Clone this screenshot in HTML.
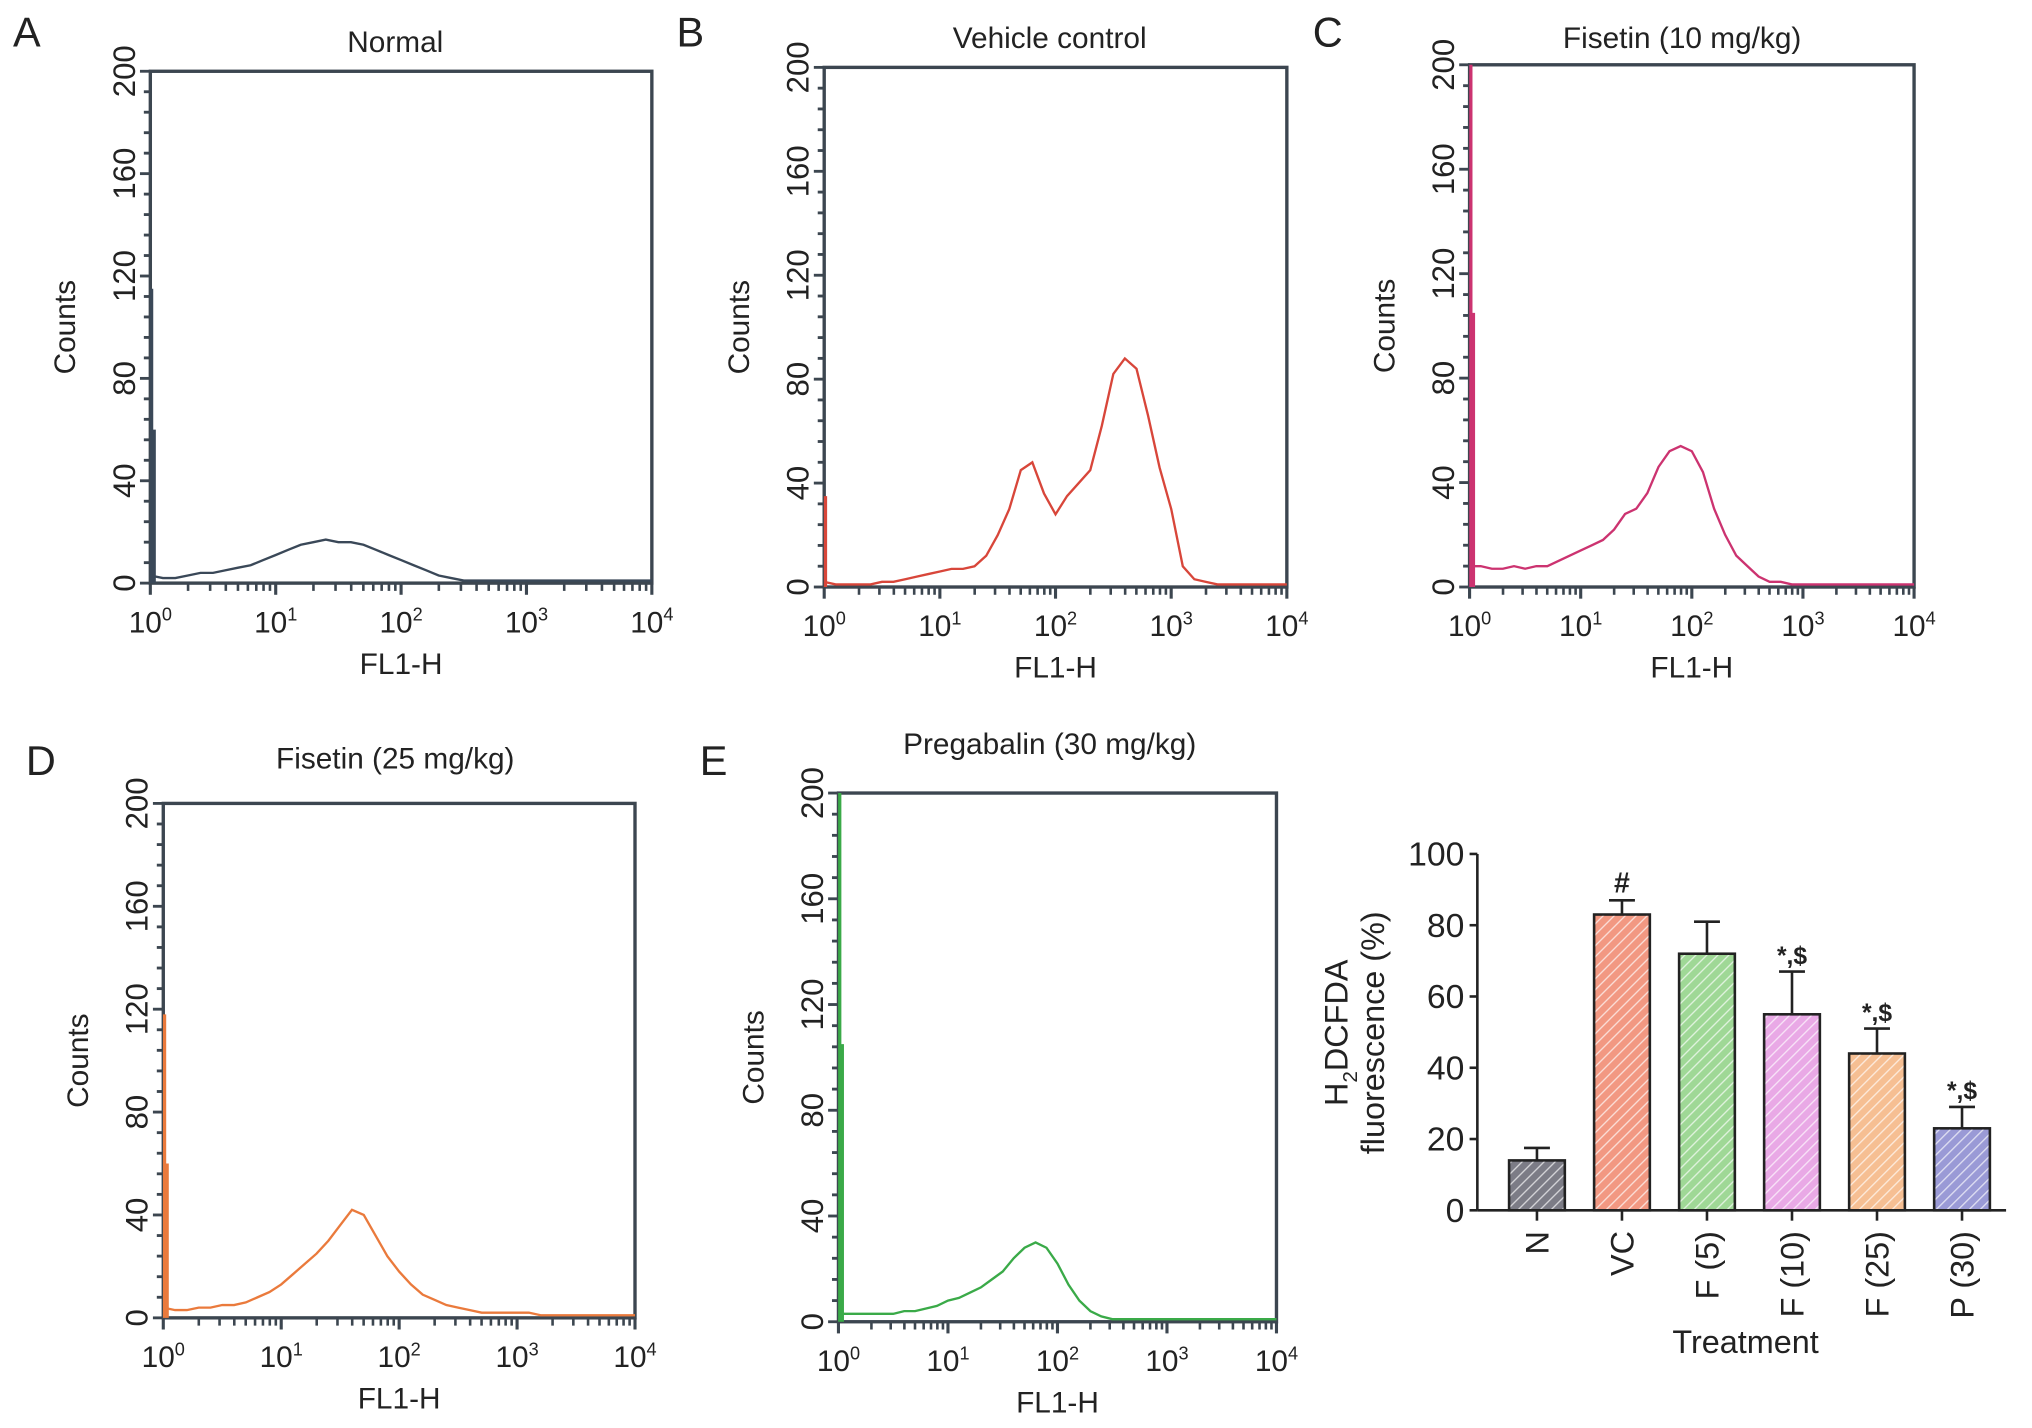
<!DOCTYPE html>
<html><head><meta charset="utf-8"><style>
html,body{margin:0;padding:0;background:#fff;}
svg{display:block;}
text{font-family:"Liberation Sans",Arial,sans-serif;fill:#222;}
</style></head><body>
<svg id="fig" width="2032" height="1428" viewBox="0 0 1568 1102" preserveAspectRatio="none" xmlns="http://www.w3.org/2000/svg">
<defs>
<pattern id="hatch" patternUnits="userSpaceOnUse" width="6" height="6" patternTransform="rotate(45)">
<rect width="6" height="6" fill="none"/><line x1="0" y1="0" x2="0" y2="6" stroke="#fff" stroke-width="2" stroke-opacity="0.7"/>
</pattern>
</defs>
</svg>
<script>
// Histogram data: counts at log10(FL1-H) = 0,0.1,...,4.0
const logPositions=[0,0.1,0.2,0.3,0.4,0.5,0.6,0.7,0.8,0.9,1.0,1.1,1.2,1.3,1.4,1.5,1.6,1.7,1.8,1.9,2.0,2.1,2.2,2.3,2.4,2.5,2.6,2.7,2.8,2.9,3.0,3.1,3.2,3.3,3.4,3.5,3.6,3.7,3.8,3.9,4.0];
const countsNormal=[3,2,2,3,4,4,5,6,7,9,11,13,15,16,17,16,16,15,13,11,9,7,5,3,2,1,1,1,1,1,1,1,1,1,1,1,1,1,1,1,1];
const countsVehicle=[2,1,1,1,1,2,2,3,4,5,6,7,7,8,12,20,30,45,48,36,28,35,40,45,62,82,88,84,66,46,30,8,3,2,1,1,1,1,1,1,1];
const countsF10=[8,8,7,7,8,7,8,8,10,12,14,16,18,22,28,30,36,46,52,54,52,44,30,20,12,8,4,2,2,1,1,1,1,1,1,1,1,1,1,1,1];
const countsF25=[4,3,3,4,4,5,5,6,8,10,13,17,21,25,30,36,42,40,32,24,18,13,9,7,5,4,3,2,2,2,2,2,1,1,1,1,1,1,1,1,1];
const countsPreg=[3,3,3,3,3,3,4,4,5,6,8,9,11,13,16,19,24,28,30,28,22,14,8,4,2,1,1,1,1,1,1,1,1,1,1,1,1,1,1,1,1];
const spikesNormal=[115,60];
const spikesVehicle=[35];
const spikesF10=[200,105];
const spikesF25=[118,60];
const spikesPreg=[200,105];
const yTicks=[0,40,80,120,160,200];
const xDecades=[0,1,2,3,4];
// Bar chart data
const barCategories=["N","VC","F (5)","F (10)","F (25)","P (30)"];
const barValues=[14,83,72,55,44,23];
const barErrors=[3.5,4,9,12,7,6];
const barAnnotations=["","#","","*,$","*,$","*,$"];
const barTicks=[0,20,40,60,80,100];

const NS="http://www.w3.org/2000/svg";
const svg=document.getElementById('fig');
function el(tag,attrs,parent){const e=document.createElementNS(NS,tag);for(const k in attrs)e.setAttribute(k,attrs[k]);(parent||svg).appendChild(e);return e;}
function txt(s,attrs,parent){const t=el('text',attrs,parent);t.textContent=s;return t;}

function histogram(cfg){
  const g=el('g',{});
  
  
  const x=v=>cfg.x0+(cfg.x1-cfg.x0)*v/4;
  const y=c=>cfg.yb+(cfg.yt-cfg.yb)*c/200;
  const fr=el('rect',{x:cfg.x0,y:cfg.yt,width:cfg.x1-cfg.x0,height:cfg.yb-cfg.yt,fill:'none',stroke:'#3c4650','stroke-width':2.6},g);
  
  
  for(let c=0;c<=200;c+=8){el('line',{x1:cfg.x0-(c%40===0?8:5),x2:cfg.x0,y1:y(c),y2:y(c),stroke:'#3c4650','stroke-width':2.2},g);}
  yTicks.forEach(c=>{
    const t=txt(String(c),{x:cfg.x0-20,y:y(c),'font-size':24,'text-anchor':'middle',transform:`rotate(-90 ${cfg.x0-20} ${y(c)})`,dy:8},g);
    
    
  });
  xDecades.forEach(d=>{
    el('line',{x1:x(d),x2:x(d),y1:cfg.yb,y2:cfg.yb+9,stroke:'#3c4650','stroke-width':2.4},g);
    if(d<4)for(let k=2;k<=9;k++){const xv=x(d+Math.log10(k));el('line',{x1:xv,x2:xv,y1:cfg.yb,y2:cfg.yb+6,stroke:'#3c4650','stroke-width':2},g);}
    const t=el('text',{x:x(d),y:cfg.yb+38,'font-size':23,'text-anchor':'middle'},g);
    
    
    t.appendChild(document.createTextNode('10'));
    const s=el('tspan',{dy:-9,'font-size':14},t);s.textContent=String(d);
  });
  const xl=txt('FL1-H',{x:(cfg.x0+cfg.x1)/2,y:cfg.yb+70,'font-size':23,'text-anchor':'middle'},g);
  
  
  const cx=cfg.x0-58, cy=(cfg.yt+cfg.yb)/2;
  const yl=txt('Counts',{x:cx,y:cy,'font-size':23,'text-anchor':'middle',transform:`rotate(-90 ${cx} ${cy})`},g);
  
  
  const ti=txt(cfg.title,{x:cfg.tx,y:cfg.ty,'font-size':23,'text-anchor':'middle'},g);
  
  
  const pl=txt(cfg.letter,{x:cfg.lx,y:cfg.ly,'font-size':32},g);
  
  
  cfg.spikes.forEach((s,i)=>{
    const sp=el('line',{x1:x(0)+1+i*2,x2:x(0)+1+i*2,y1:cfg.yb,y2:y(s),stroke:cfg.color,'stroke-width':2.5},g);
    
    
  });
  let d='';
  cfg.data.forEach((c,i)=>{d+=(i?'L':'M')+x(logPositions[i]).toFixed(1)+' '+y(c).toFixed(1);});
  const p=el('path',{d:d,fill:'none',stroke:cfg.color,'stroke-width':1.8},g);
  
  
}

histogram({name:'panel-a-normal',x0:116,x1:503,yt:55,yb:450,data:countsNormal,spikes:spikesNormal,color:'#3a4858',title:'Normal',tx:305,ty:40,letter:'A',lx:10,ly:36});
histogram({name:'panel-b-vehicle',x0:636,x1:993,yt:52,yb:453,data:countsVehicle,spikes:spikesVehicle,color:'#d8463a',title:'Vehicle control',tx:810,ty:37,letter:'B',lx:522,ly:36});
histogram({name:'panel-c-fisetin10',x0:1134,x1:1477,yt:50,yb:453,data:countsF10,spikes:spikesF10,color:'#cc3370',title:'Fisetin (10 mg/kg)',tx:1298,ty:37,letter:'C',lx:1013,ly:36});
histogram({name:'panel-d-fisetin25',x0:126,x1:490,yt:620,yb:1017,data:countsF25,spikes:spikesF25,color:'#ea7a3c',title:'Fisetin (25 mg/kg)',tx:305,ty:593,letter:'D',lx:20,ly:598});
histogram({name:'panel-e-pregabalin',x0:647,x1:985,yt:612,yb:1020,data:countsPreg,spikes:spikesPreg,color:'#3aaa48',title:'Pregabalin (30 mg/kg)',tx:810,ty:582,letter:'E',lx:540,ly:598});

(function(){
  const g=el('g',{});
  
  
  const ax=1140, yb=934, yt=659, xr=1548;
  const y=v=>yb+(yt-yb)*v/100;
  const step=65.6, first=1186, bw=43;
  const xc=i=>first+i*step;
  const fills=['#7c7c86','#f29882','#9fd896','#e9a9e6','#f6bf93','#9a9ad6'];
  el('line',{x1:ax,x2:ax,y1:yt,y2:yb,stroke:'#222','stroke-width':2},g);
  el('line',{x1:ax,x2:xr,y1:yb,y2:yb,stroke:'#222','stroke-width':2},g);
  barTicks.forEach(v=>{
    el('line',{x1:ax-6,x2:ax,y1:y(v),y2:y(v),stroke:'#222','stroke-width':2},g);
    const t=txt(String(v),{x:ax-10,y:y(v)+9,'font-size':26,'text-anchor':'end'},g);
    
    
  });
  barCategories.forEach((c,i)=>{
    const v=barValues[i], e=barErrors[i], x=xc(i);
    el('line',{x1:x,x2:x,y1:yb,y2:yb+8,stroke:'#222','stroke-width':2},g);
    el('line',{x1:x,x2:x,y1:y(v),y2:y(v+e),stroke:'#222','stroke-width':2},g);
    el('line',{x1:x-10,x2:x+10,y1:y(v+e),y2:y(v+e),stroke:'#222','stroke-width':2},g);
    const r=el('rect',{x:x-bw/2,y:y(v),width:bw,height:yb-y(v),fill:fills[i],stroke:'#222','stroke-width':2},g);
    
    
    el('rect',{x:x-bw/2+1,y:y(v)+1,width:bw-2,height:yb-y(v)-2,fill:'url(#hatch)'},g);
    if(barAnnotations[i]){
      const a=txt(barAnnotations[i],{x:x,y:y(v+e)-6,'font-size':barAnnotations[i]==='#'?22:19,'text-anchor':'middle','font-weight':'bold'},g);
      
      
    }
    const lt=txt(c,{x:x,y:yb+16,'font-size':25,'text-anchor':'end',transform:`rotate(-90 ${x} ${yb+16})`,dy:9},g);
    
    
  });
  const tt=txt('Treatment',{x:1347,y:1044,'font-size':25,'text-anchor':'middle'},g);
  
  
  const yt1=el('text',{x:1040,y:797,'font-size':25,'text-anchor':'middle',transform:'rotate(-90 1040 797)'},g);
  
  
  yt1.appendChild(document.createTextNode('H'));
  const sub=el('tspan',{dy:7,'font-size':16},yt1);sub.textContent='2';
  const rest=el('tspan',{dy:-7},yt1);rest.textContent='DCFDA';
  const yt2=txt('fluorescence (%)',{x:1068,y:797,'font-size':25,'text-anchor':'middle',transform:'rotate(-90 1068 797)'},g);
  
  
})();
</script>
</body></html>
